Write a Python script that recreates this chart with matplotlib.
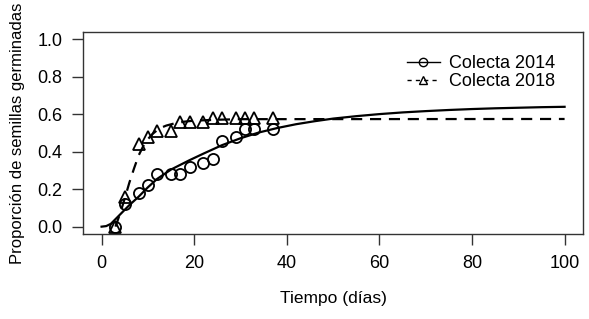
import matplotlib
matplotlib.use('Agg')
from matplotlib import pyplot as plt

plt.rcParams['font.family'] = ['Liberation Sans', 'DejaVu Sans']

# observed germination (Colecta 2014)
dias_2014 = [3, 5, 8, 10, 12, 15, 17, 19, 22, 24, 26, 29, 31, 33, 37]
prop_2014 = [0.0, 0.12, 0.18, 0.22, 0.28, 0.28, 0.28, 0.32, 0.34, 0.36, 0.46, 0.48, 0.52, 0.52, 0.52]

# observed germination (Colecta 2018)
dias_2018 = [3, 5, 8, 10, 12, 15, 17, 19, 22, 24, 26, 29, 31, 33, 37]
prop_2018 = [0.0, 0.16, 0.44, 0.48, 0.51, 0.51, 0.56, 0.56, 0.56, 0.58, 0.58, 0.58, 0.58, 0.58, 0.58]

# fitted curves
ajuste_dias_2014 = [0, 1, 2, 3, 4, 6, 8, 10, 12, 15, 19, 22, 26, 30, 34, 38, 42, 46, 50,
                    55, 60, 65, 70, 75, 80, 85, 90, 95, 100]
ajuste_prop_2014 = [0.0, 0.003, 0.015, 0.04, 0.065, 0.115, 0.16, 0.21, 0.255, 0.305, 0.355, 0.39,
                    0.435, 0.472, 0.503, 0.527, 0.547, 0.563, 0.577, 0.59, 0.601, 0.61,
                    0.617, 0.623, 0.628, 0.632, 0.635, 0.638, 0.64]
ajuste_dias_2018 = [3, 4, 5, 6, 7, 8, 9, 10, 11, 12, 13, 14, 16, 18, 20, 25, 30, 100]
ajuste_prop_2018 = [0.0, 0.07, 0.15, 0.235, 0.31, 0.38, 0.43, 0.467, 0.495, 0.515, 0.53, 0.54,
                    0.553, 0.561, 0.566, 0.571, 0.574, 0.575]

fig = plt.figure(figsize=(5.89, 3.19), dpi=100)
ax = fig.add_axes([0.141, 0.266, 0.849, 0.634])

ax.plot(ajuste_dias_2014, ajuste_prop_2014, color='black', linewidth=1.6)
ax.plot(ajuste_dias_2018, ajuste_prop_2018, color='black', linewidth=1.6, dashes=(5, 3.5))
ax.plot(dias_2014, prop_2014, 'o', markersize=8, markerfacecolor='none',
        markeredgecolor='black', markeredgewidth=1.3)
ax.plot(dias_2018, prop_2018, '^', markersize=9, markerfacecolor='none',
        markeredgecolor='black', markeredgewidth=1.3)

# legend handles (line + marker like base R)
h1, = ax.plot([], [], '-o', color='black', linewidth=1.0, markersize=6,
              markerfacecolor='none', markeredgewidth=1.0)
h2, = ax.plot([], [], '--^', color='black', linewidth=1.0, markersize=6,
              markerfacecolor='none', markeredgewidth=1.0, dashes=(3, 3))
ax.legend([h1, h2], ['Colecta 2014', 'Colecta 2018'], loc='upper right',
          bbox_to_anchor=(0.976, 0.965), frameon=False, fontsize=13,
          handlelength=1.8, handletextpad=0.5, labelspacing=0.05)

ax.set_xlim(-4, 104)
ax.set_ylim(-0.04, 1.04)
ax.set_xticks([0, 20, 40, 60, 80, 100])
ax.set_yticks([0.0, 0.2, 0.4, 0.6, 0.8, 1.0])
ax.set_yticklabels(['0.0', '0.2', '0.4', '0.6', '0.8', '1.0'])
ax.tick_params(direction='out', length=8, width=1.0, labelsize=13, pad=7, color='#333333')
for s in ax.spines.values():
    s.set_color('#333333')
    s.set_linewidth(1.0)

ax.set_xlabel('Tiempo (días)', fontsize=12.5, labelpad=14)
ax.set_ylabel('Proporción de semillas germinadas', fontsize=12, labelpad=9)

plt.savefig('out.png', dpi=100)
